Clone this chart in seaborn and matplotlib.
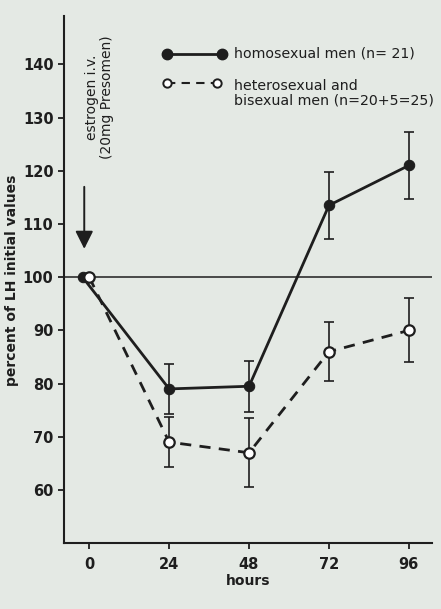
import matplotlib
matplotlib.use("Agg")
import matplotlib.pyplot as plt
import seaborn as sns
import pandas as pd

# ---- data ----
hours_ticks = [0, 24, 48, 72, 96]
homo_hours = [-2, 24, 48, 72, 96]
homo_values = [100, 79, 79.5, 113.5, 121]
homo_err = [0, 4.75, 4.75, 6.25, 6.25]
hetero_hours = [0, 24, 48, 72, 96]
hetero_values = [100, 69, 67, 86, 90]
hetero_err = [0, 4.75, 6.5, 5.5, 6]
y_ticks = [60, 70, 80, 90, 100, 110, 120, 130, 140]
homo_label = "homosexual men (n= 21)"
hetero_label = "heterosexual and\nbisexual men (n=20+5=25)"

BG = "#e4e9e4"
INK = "#1e1e1e"

sns.set_theme(style="ticks")
plt.rcParams["font.family"] = ["DejaVu Sans"]

fig = plt.figure(figsize=(4.41, 6.09), dpi=100, facecolor=BG)
ax = fig.add_axes([0.145, 0.108, 0.835, 0.865])
ax.set_facecolor(BG)

homo_df = pd.DataFrame({"hours": homo_hours, "value": homo_values})
het_df = pd.DataFrame({"hours": hetero_hours, "value": hetero_values})

# reference line at 100 %
ax.axhline(100, color=INK, lw=1.1, zorder=1)

sns.lineplot(data=homo_df, x="hours", y="value", ax=ax, color=INK, lw=2.0,
             marker="o", markersize=7.5, markerfacecolor=INK, markeredgecolor=INK,
             zorder=4)
sns.lineplot(data=het_df, x="hours", y="value", ax=ax, color=INK, lw=2.0,
             linestyle=(0, (4, 3)), marker="o", markersize=7.5,
             markerfacecolor="white", markeredgecolor=INK, markeredgewidth=1.6,
             zorder=5)

ax.errorbar(homo_hours[1:], homo_values[1:], yerr=homo_err[1:], fmt="none",
            ecolor=INK, elinewidth=1.2, capsize=3.5, capthick=1.2, zorder=3)
ax.errorbar(hetero_hours[1:], hetero_values[1:], yerr=hetero_err[1:], fmt="none",
            ecolor=INK, elinewidth=1.2, capsize=3.5, capthick=1.2, zorder=3)

ax.set_xlim(-7.6, 103)
ax.set_ylim(50, 149)
ax.set_xticks(hours_ticks)
ax.set_xticklabels([str(h) for h in hours_ticks])
ax.set_yticks(y_ticks)
ax.set_yticklabels([str(v) for v in y_ticks])
for s in ["top", "right"]:
    ax.spines[s].set_visible(False)
for s in ["left", "bottom"]:
    ax.spines[s].set_color(INK)
    ax.spines[s].set_linewidth(1.5)
ax.tick_params(axis="both", colors=INK, labelsize=10.5, length=4, width=1.3,
               direction="out")
ax.tick_params(axis="x", pad=6)
for lab in ax.get_xticklabels() + ax.get_yticklabels():
    lab.set_fontweight("bold")

ax.set_xlabel("hours", fontsize=10, fontweight="bold", color=INK, labelpad=1)
ax.set_ylabel("percent of LH initial values", fontsize=10, fontweight="bold",
              color=INK, labelpad=3)

# estrogen arrow and annotation
ax.annotate("", xy=(-1.5, 104.8), xytext=(-1.5, 117.5),
            arrowprops=dict(arrowstyle="-|>,head_length=0.9,head_width=0.45",
                            color=INK, lw=1.4))
ax.text(3.0, 133.8, "estrogen i.v.\n(20mg Presomen)", rotation=90,
        ha="center", va="center", fontsize=10, color=INK, linespacing=1.1)

# legend drawn by hand
ax.plot([23.5, 40], [142, 142], color=INK, lw=2.0, marker="o", markersize=7.5,
        markerfacecolor=INK, zorder=4)
ax.plot([23.5, 38.5], [136.5, 136.5], color=INK, lw=1.5, linestyle=(0, (4, 3)),
        marker="o", markersize=6, markerfacecolor="white", markeredgecolor=INK,
        markeredgewidth=1.4, zorder=4)
ax.text(43.5, 142, homo_label, ha="left", va="center", fontsize=10.2, color=INK)
ax.text(43.5, 134.6, hetero_label, ha="left", va="center", fontsize=10.2,
        color=INK, linespacing=1.1)

fig.savefig("out.png", dpi=100, facecolor=BG)
